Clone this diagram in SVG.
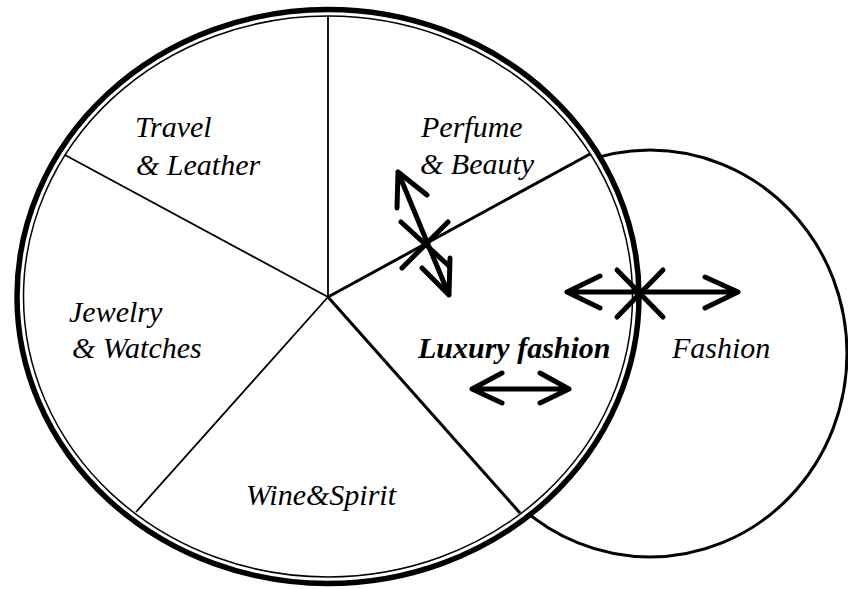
<svg xmlns="http://www.w3.org/2000/svg" width="848" height="589" viewBox="0 0 848 589">
<rect width="848" height="589" fill="#fff"/>
<g id="fashion-circle">
<ellipse cx="650" cy="353.5" rx="197" ry="203.5" fill="#fff" stroke="#000" stroke-width="3"/>
</g>
<g id="luxury-circle">
<ellipse cx="328" cy="296.5" rx="311" ry="287" fill="#fff" stroke="#000" stroke-width="5.5"/>
<ellipse cx="328" cy="296.5" rx="304.5" ry="280.5" fill="none" stroke="#000" stroke-width="1.5"/>
</g>
<g id="dividers" stroke="#000" fill="none">
<line stroke-width="1.8" x1="328" y1="297" x2="328" y2="16"/>
<line stroke-width="1.8" x1="328" y1="297" x2="65" y2="155"/>
<line stroke-width="1.8" x1="328" y1="297" x2="136" y2="512"/>
<line stroke-width="3" x1="328" y1="297" x2="590" y2="154"/>
<line stroke-width="3" x1="328" y1="297" x2="520" y2="513"/>
</g>
<text id="travel-leather" font-family="Liberation Serif" font-size="30" font-style="italic"><tspan x="135" y="137">Travel</tspan><tspan x="136" y="175">&amp; Leather</tspan></text>
<text id="perfume-beauty" font-family="Liberation Serif" font-size="30" font-style="italic"><tspan x="421" y="137">Perfume</tspan><tspan x="420" y="174">&amp; Beauty</tspan></text>
<text id="jewelry-watches" font-family="Liberation Serif" font-size="30" font-style="italic"><tspan x="69" y="322">Jewelry</tspan><tspan x="72" y="358">&amp; Watches</tspan></text>
<text id="wine-spirit" font-family="Liberation Serif" font-size="30" font-style="italic" x="246" y="505">Wine&amp;Spirit</text>
<text id="luxury-fashion" font-family="Liberation Serif" font-size="30" font-weight="bold" font-style="italic" x="418" y="358">Luxury fashion</text>
<text id="fashion" font-family="Liberation Serif" font-size="30" font-style="italic" x="672" y="358">Fashion</text>
<g id="connectors" stroke="#000" stroke-width="5" fill="none" stroke-linecap="round" stroke-linejoin="round">
<path d="M398,172 L449,295 M427,195 L398,172 L397,208 M450,258 L449,295 L422,268"/>
<path d="M401,222 L449,266 M448,222 L402,268"/>
<path d="M567,292 L738,292 M600,276 L567,292 L600,308 M705,277 L738,292 L705,308"/>
<path d="M617,270 L663,317 M663,270 L617,317"/>
<path d="M472,389 L569,389 M502,373 L472,389 L502,403 M540,373 L569,389 L540,403"/>
</g>
</svg>
